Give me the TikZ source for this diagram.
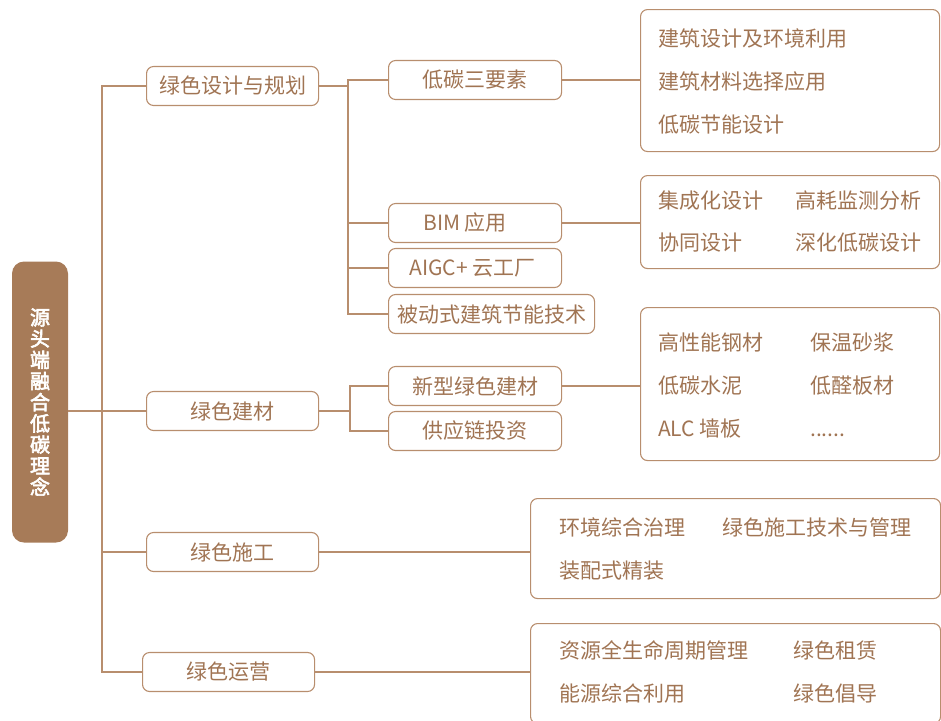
\documentclass[tikz,border=0pt]{standalone}
\usepackage{fontspec}
\setmainfont{Noto Sans CJK SC}
\newfontfamily\rootfont[FakeBold=3]{Noto Sans CJK SC}
\definecolor{linec}{HTML}{B88E6E}
\definecolor{textc}{HTML}{A07453}
\definecolor{rootc}{HTML}{A77B58}
\tikzset{
  link/.style={draw=linec, line width=1.1pt},
  topic/.style={draw=linec, line width=1.1pt, rounded corners=7pt, text=textc,
    font=\fontsize{21}{25}\selectfont, minimum width=172pt, minimum height=39pt,
    inner sep=0pt, anchor=west},
  leaf/.style={draw=linec, line width=1.1pt, rounded corners=7pt, anchor=north west,
    inner sep=0pt, minimum width=299pt},
  item/.style={text=textc, font=\fontsize{21}{25}\selectfont, anchor=base west, inner sep=0pt},
}
\begin{document}
\begin{tikzpicture}[x=1pt,y=-1pt]
  \useasboundingbox (0,0) rectangle (941,720);
  \node[fill=rootc, rounded corners=12pt, minimum width=56pt, minimum height=281pt,
    inner sep=0pt, text=white, font=\rootfont\fontsize{20}{21.2}\selectfont, align=center]
    (root) at (40,402) {源\\头\\端\\融\\合\\低\\碳\\理\\念};

  \node[topic] (sheji) at (146,86) {绿色设计与规划};
  \node[topic] (jiancai) at (146,411) {绿色建材};
  \node[topic] (shigong) at (146,552) {绿色施工};
  \node[topic] (yunying) at (142,672) {绿色运营};

  \node[topic, minimum width=173pt] (sanyaosu) at (388,80) {低碳三要素};
  \node[topic, minimum width=173pt] (bim) at (388,223) {BIM 应用\kern20pt};
  \node[topic, minimum width=173pt] (aigc) at (388,268) {AIGC+ 云工厂\kern5pt};
  \node[topic, minimum width=206pt] (beidong) at (388,314) {被动式建筑节能技术};
  \node[topic, minimum width=173pt] (xinxing) at (388,386) {新型绿色建材};
  \node[topic, minimum width=173pt] (gongying) at (388,431) {供应链投资};

  \node[leaf, minimum height=142pt] (b1) at (640,9) {};
  \node[leaf, minimum height=93pt] (b2) at (640,175) {};
  \node[leaf, minimum height=153pt] (b3) at (640,307) {};
  \node[leaf, minimum width=410pt, minimum height=100pt] (b4) at (530,498) {};
  \node[leaf, minimum width=410pt, minimum height=100pt] (b5) at (530,623) {};

  \coordinate (trunk) at (102,0);
  \coordinate (fork1) at (348,0);
  \coordinate (fork2) at (350,0);
  \draw[link] (jiancai.west) -- (jiancai.west -| root.east);
  \draw[link] (sheji.west) -| (yunying.west -| trunk) -- (yunying.west);
  \draw[link] (shigong.west) -- (shigong.west -| trunk);

  \draw[link] (sheji.east) -- (sheji.east -| fork1);
  \draw[link] (sanyaosu.west) -| (beidong.west -| fork1) -- (beidong.west);
  \draw[link] (bim.west) -- (bim.west -| fork1);
  \draw[link] (aigc.west) -- (aigc.west -| fork1);
  \draw[link] (jiancai.east) -- (jiancai.east -| fork2);
  \draw[link] (xinxing.west) -| (gongying.west -| fork2) -- (gongying.west);

  \draw[link] (sanyaosu.east) -- (sanyaosu.east -| b1.west);
  \draw[link] (bim.east) -- (bim.east -| b2.west);
  \draw[link] (xinxing.east) -- (xinxing.east -| b3.west);
  \draw[link] (shigong.east) -- (shigong.east -| b4.west);
  \draw[link] (yunying.east) -- (yunying.east -| b5.west);

  \node[item] (i11) at (658,46) {建筑设计及环境利用};
  \node[item] (i12) at (658,89) {建筑材料选择应用};
  \node[item] (i13) at (658,132) {低碳节能设计};

  \node[item] (i21) at (658,208) {集成化设计};
  \node[item] (i22) at (795,208) {高耗监测分析};
  \node[item] (i23) at (658,250) {协同设计};
  \node[item] (i24) at (795,250) {深化低碳设计};

  \node[item] (i31) at (658,350) {高性能钢材};
  \node[item] (i32) at (810,350) {保温砂浆};
  \node[item] (i33) at (658,393) {低碳水泥};
  \node[item] (i34) at (810,393) {低醛板材};
  \node[item] (i35) at (658,436) {ALC 墙板};
  \node[item] (i36) at (810,436) {......};

  \node[item] (i41) at (559,535) {环境综合治理};
  \node[item] (i42) at (722,535) {绿色施工技术与管理};
  \node[item] (i43) at (559,578) {装配式精装};

  \node[item] (i51) at (559,658) {资源全生命周期管理};
  \node[item] (i52) at (793,658) {绿色租赁};
  \node[item] (i53) at (559,701) {能源综合利用};
  \node[item] (i54) at (793,701) {绿色倡导};
\end{tikzpicture}
\end{document}
